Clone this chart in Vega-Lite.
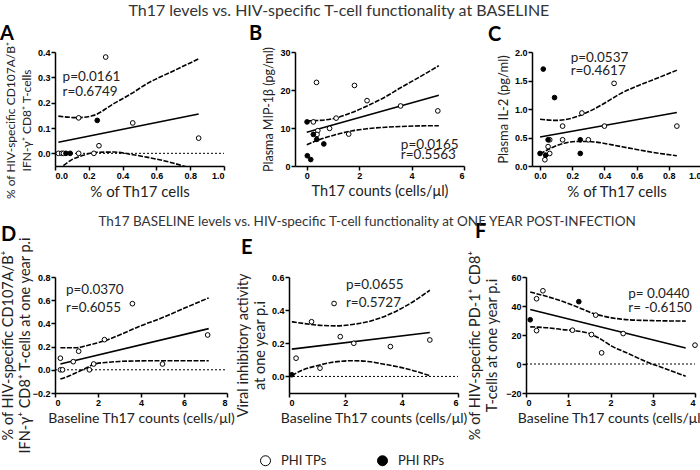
{
  "$schema": "https://vega.github.io/schema/vega-lite/v6.json",
  "background": "white",
  "padding": {"left": 0, "top": 2, "right": 0, "bottom": 2},
  "datasets": {
    "A": [
      {"k":"zero","x":0,"y":0},{"k":"zero","x":1,"y":0},
      {"k":"fit","x":0.02,"y":0.044},{"k":"fit","x":0.85,"y":0.155},
      {"k":"up","x":0.02,"y":0.147},{"k":"up","x":0.13,"y":0.141},{"k":"up","x":0.22,"y":0.148},{"k":"up","x":0.35,"y":0.197},{"k":"up","x":0.45,"y":0.235},{"k":"up","x":0.55,"y":0.277},{"k":"up","x":0.7,"y":0.325},{"k":"up","x":0.85,"y":0.373},
      {"k":"lo","x":0.02,"y":-0.065},{"k":"lo","x":0.1,"y":-0.025},{"k":"lo","x":0.16,"y":-0.009},{"k":"lo","x":0.25,"y":0.004},{"k":"lo","x":0.35,"y":0.005},{"k":"lo","x":0.45,"y":-0.004},{"k":"lo","x":0.55,"y":-0.016},{"k":"lo","x":0.65,"y":-0.03},{"k":"lo","x":0.75,"y":-0.048},{"k":"lo","x":0.85,"y":-0.068},
      {"k":"pt","g":"PHI TPs","x":0.30,"y":0.38},{"k":"pt","g":"PHI TPs","x":0.14,"y":0.14},{"k":"pt","g":"PHI TPs","x":0.46,"y":0.12},{"k":"pt","g":"PHI TPs","x":0.85,"y":0.06},{"k":"pt","g":"PHI TPs","x":0.26,"y":0.03},{"k":"pt","g":"PHI TPs","x":0.02,"y":0},{"k":"pt","g":"PHI TPs","x":0.04,"y":0},{"k":"pt","g":"PHI TPs","x":0.05,"y":0},{"k":"pt","g":"PHI TPs","x":0.14,"y":0},{"k":"pt","g":"PHI TPs","x":0.23,"y":0},
      {"k":"pt","g":"PHI RPs","x":0.25,"y":0.13},{"k":"pt","g":"PHI RPs","x":0.065,"y":0},{"k":"pt","g":"PHI RPs","x":0.09,"y":0},
      {"k":"lab","x":0.045,"y":0.30,"t":"p=0.0161"},{"k":"lab","x":0.045,"y":0.244,"t":"r=0.6749"}
    ],
    "B": [
      {"k":"fit","x":0,"y":8.9},{"k":"fit","x":5.04,"y":18.6},
      {"k":"up","x":0,"y":11.9},{"k":"up","x":0.5,"y":12.0},{"k":"up","x":1.03,"y":12.5},{"k":"up","x":1.7,"y":14.0},{"k":"up","x":2.3,"y":15.8},{"k":"up","x":3.0,"y":18.2},{"k":"up","x":3.58,"y":20.6},{"k":"up","x":4.3,"y":23.4},{"k":"up","x":5.04,"y":26.4},
      {"k":"lo","x":0,"y":5.6},{"k":"lo","x":0.5,"y":7.0},{"k":"lo","x":1.03,"y":8.1},{"k":"lo","x":1.7,"y":9.2},{"k":"lo","x":2.3,"y":9.8},{"k":"lo","x":3.0,"y":10.2},{"k":"lo","x":3.58,"y":10.4},{"k":"lo","x":4.3,"y":10.55},{"k":"lo","x":5.04,"y":10.6},
      {"k":"pt","g":"PHI TPs","x":0.37,"y":22},{"k":"pt","g":"PHI TPs","x":1.82,"y":21.2},{"k":"pt","g":"PHI TPs","x":2.30,"y":17.2},{"k":"pt","g":"PHI TPs","x":3.58,"y":15.8},{"k":"pt","g":"PHI TPs","x":5.0,"y":14.5},{"k":"pt","g":"PHI TPs","x":0.25,"y":11.6},{"k":"pt","g":"PHI TPs","x":1.12,"y":12.6},{"k":"pt","g":"PHI TPs","x":0.87,"y":9.9},{"k":"pt","g":"PHI TPs","x":0.42,"y":9.3},{"k":"pt","g":"PHI TPs","x":0.39,"y":8.3},{"k":"pt","g":"PHI TPs","x":1.6,"y":8.4},
      {"k":"pt","g":"PHI RPs","x":0.01,"y":11.6},{"k":"pt","g":"PHI RPs","x":0.25,"y":8.3},{"k":"pt","g":"PHI RPs","x":0.38,"y":7.0},{"k":"pt","g":"PHI RPs","x":0.65,"y":5.8},{"k":"pt","g":"PHI RPs","x":0.02,"y":2.7},{"k":"pt","g":"PHI RPs","x":0.15,"y":1.7},
      {"k":"lab","x":3.59,"y":5.6,"t":"p=0.0165"},{"k":"lab","x":3.59,"y":2.9,"t":"r=0.5563"}
    ],
    "C": [
      {"k":"fit","x":0,"y":0.51},{"k":"fit","x":0.85,"y":0.94},
      {"k":"up","x":0,"y":0.82},{"k":"up","x":0.1,"y":0.80},{"k":"up","x":0.2,"y":0.84},{"k":"up","x":0.3,"y":0.95},{"k":"up","x":0.4,"y":1.10},{"k":"up","x":0.5,"y":1.27},{"k":"up","x":0.6,"y":1.40},{"k":"up","x":0.7,"y":1.51},{"k":"up","x":0.85,"y":1.68},
      {"k":"lo","x":0,"y":0.21},{"k":"lo","x":0.08,"y":0.33},{"k":"lo","x":0.15,"y":0.40},{"k":"lo","x":0.225,"y":0.43},{"k":"lo","x":0.3,"y":0.43},{"k":"lo","x":0.37,"y":0.41},{"k":"lo","x":0.45,"y":0.37},{"k":"lo","x":0.58,"y":0.30},{"k":"lo","x":0.7,"y":0.24},{"k":"lo","x":0.85,"y":0.18},
      {"k":"pt","g":"PHI TPs","x":0.46,"y":1.45},{"k":"pt","g":"PHI TPs","x":0.26,"y":0.93},{"k":"pt","g":"PHI TPs","x":0.14,"y":0.70},{"k":"pt","g":"PHI TPs","x":0.40,"y":0.70},{"k":"pt","g":"PHI TPs","x":0.85,"y":0.70},{"k":"pt","g":"PHI TPs","x":0.06,"y":0.46},{"k":"pt","g":"PHI TPs","x":0.14,"y":0.46},{"k":"pt","g":"PHI TPs","x":0.30,"y":0.46},{"k":"pt","g":"PHI TPs","x":0.05,"y":0.34},{"k":"pt","g":"PHI TPs","x":0.06,"y":0.22},{"k":"pt","g":"PHI TPs","x":0.03,"y":0.11},
      {"k":"pt","g":"PHI RPs","x":0.02,"y":1.70},{"k":"pt","g":"PHI RPs","x":0.09,"y":1.20},{"k":"pt","g":"PHI RPs","x":0.05,"y":0.46},{"k":"pt","g":"PHI RPs","x":0.25,"y":0.46},{"k":"pt","g":"PHI RPs","x":0.0,"y":0.22},{"k":"pt","g":"PHI RPs","x":0.035,"y":0.19},{"k":"pt","g":"PHI RPs","x":0.25,"y":0.22},
      {"k":"lab","x":0.19,"y":1.89,"t":"p=0.0537"},{"k":"lab","x":0.19,"y":1.67,"t":"r=0.4617"}
    ],
    "D": [
      {"k":"zero","x":0,"y":0},{"k":"zero","x":8,"y":0},
      {"k":"fit","x":0.25,"y":0.05},{"k":"fit","x":7.15,"y":0.355},
      {"k":"up","x":0.25,"y":0.19},{"k":"up","x":1.0,"y":0.19},{"k":"up","x":1.5,"y":0.21},{"k":"up","x":2.3,"y":0.25},{"k":"up","x":3.0,"y":0.30},{"k":"up","x":4.0,"y":0.38},{"k":"up","x":5.0,"y":0.45},{"k":"up","x":6.0,"y":0.53},{"k":"up","x":7.15,"y":0.62},
      {"k":"lo","x":0.25,"y":-0.08},{"k":"lo","x":0.7,"y":-0.05},{"k":"lo","x":1.05,"y":-0.02},{"k":"lo","x":1.5,"y":0.02},{"k":"lo","x":1.83,"y":0.05},{"k":"lo","x":2.5,"y":0.065},{"k":"lo","x":3.0,"y":0.072},{"k":"lo","x":4.0,"y":0.077},{"k":"lo","x":5.0,"y":0.078},{"k":"lo","x":7.15,"y":0.078},
      {"k":"pt","g":"PHI TPs","x":3.6,"y":0.57},{"k":"pt","g":"PHI TPs","x":7.1,"y":0.30},{"k":"pt","g":"PHI TPs","x":2.3,"y":0.26},{"k":"pt","g":"PHI TPs","x":1.1,"y":0.16},{"k":"pt","g":"PHI TPs","x":0.25,"y":0.10},{"k":"pt","g":"PHI TPs","x":0.85,"y":0.07},{"k":"pt","g":"PHI TPs","x":1.8,"y":0.05},{"k":"pt","g":"PHI TPs","x":5.0,"y":0.05},{"k":"pt","g":"PHI TPs","x":1.6,"y":0.0},{"k":"pt","g":"PHI TPs","x":0.25,"y":0.0},{"k":"pt","g":"PHI TPs","x":0.35,"y":0.0},
      {"k":"lab","x":0.51,"y":0.69,"t":"p=0.0370"},{"k":"lab","x":0.51,"y":0.535,"t":"r=0.6055"}
    ],
    "E": [
      {"k":"zero","x":0,"y":0},{"k":"zero","x":6,"y":0},
      {"k":"fit","x":0.1,"y":0.165},{"k":"fit","x":5.0,"y":0.265},
      {"k":"up","x":0.1,"y":0.33},{"k":"up","x":0.5,"y":0.32},{"k":"up","x":1.0,"y":0.31},{"k":"up","x":1.7,"y":0.305},{"k":"up","x":2.3,"y":0.315},{"k":"up","x":2.8,"y":0.33},{"k":"up","x":3.5,"y":0.37},{"k":"up","x":4.2,"y":0.43},{"k":"up","x":5.0,"y":0.52},
      {"k":"lo","x":0.1,"y":0.005},{"k":"lo","x":0.5,"y":0.04},{"k":"lo","x":1.0,"y":0.065},{"k":"lo","x":1.6,"y":0.087},{"k":"lo","x":2.3,"y":0.095},{"k":"lo","x":2.8,"y":0.09},{"k":"lo","x":3.5,"y":0.07},{"k":"lo","x":4.2,"y":0.045},{"k":"lo","x":5.0,"y":0.005},
      {"k":"pt","g":"PHI TPs","x":1.6,"y":0.44},{"k":"pt","g":"PHI TPs","x":0.8,"y":0.33},{"k":"pt","g":"PHI TPs","x":1.82,"y":0.24},{"k":"pt","g":"PHI TPs","x":2.3,"y":0.20},{"k":"pt","g":"PHI TPs","x":3.6,"y":0.18},{"k":"pt","g":"PHI TPs","x":5.0,"y":0.22},{"k":"pt","g":"PHI TPs","x":0.25,"y":0.11},{"k":"pt","g":"PHI TPs","x":1.1,"y":0.05},
      {"k":"pt","g":"PHI RPs","x":0.1,"y":0.01},
      {"k":"lab","x":2.02,"y":0.553,"t":"p=0.0655"},{"k":"lab","x":2.02,"y":0.443,"t":"r=0.5727"}
    ],
    "F": [
      {"k":"zero","x":0,"y":0},{"k":"zero","x":4,"y":0},
      {"k":"fit","x":0.1,"y":37.6},{"k":"fit","x":3.78,"y":11.1},
      {"k":"up","x":0.1,"y":49.6},{"k":"up","x":0.5,"y":46.5},{"k":"up","x":0.84,"y":43.4},{"k":"up","x":1.2,"y":39.5},{"k":"up","x":1.63,"y":34.5},{"k":"up","x":2.0,"y":32},{"k":"up","x":2.42,"y":30.5},{"k":"up","x":3.0,"y":29.9},{"k":"up","x":3.78,"y":29.6},
      {"k":"lo","x":0.1,"y":25.6},{"k":"lo","x":0.5,"y":25},{"k":"lo","x":0.84,"y":23.8},{"k":"lo","x":1.2,"y":22.8},{"k":"lo","x":1.48,"y":21.2},{"k":"lo","x":1.75,"y":17.5},{"k":"lo","x":2.03,"y":12.3},{"k":"lo","x":2.4,"y":7.5},{"k":"lo","x":2.82,"y":1.9},{"k":"lo","x":3.3,"y":-3.3},{"k":"lo","x":3.78,"y":-8.5},
      {"k":"pt","g":"PHI TPs","x":0.4,"y":50.5},{"k":"pt","g":"PHI TPs","x":0.25,"y":45},{"k":"pt","g":"PHI TPs","x":0.25,"y":23},{"k":"pt","g":"PHI TPs","x":1.65,"y":33.7},{"k":"pt","g":"PHI TPs","x":1.10,"y":23.3},{"k":"pt","g":"PHI TPs","x":1.55,"y":20.3},{"k":"pt","g":"PHI TPs","x":1.79,"y":7.7},{"k":"pt","g":"PHI TPs","x":2.30,"y":21},{"k":"pt","g":"PHI TPs","x":4.0,"y":13},
      {"k":"pt","g":"PHI RPs","x":0.1,"y":30.5},{"k":"pt","g":"PHI RPs","x":1.25,"y":43},
      {"k":"lab","x":2.42,"y":48,"t":"p= 0.0440"},{"k":"lab","x":2.42,"y":38.8,"t":"r= -0.6150"}
    ]
  },
  "vconcat": [
    {
      "title": {"text": "Th17 levels vs. HIV-specific T-cell functionality at BASELINE", "anchor": "middle", "frame": "bounds", "dx": -12, "fontSize": 16, "fontWeight": "normal", "color": "#333", "offset": 5},
      "spacing": 23,
      "hconcat": [
        {
          "width": 169, "height": 114,
          "title": {"text": "A", "anchor": "start", "dx": -55, "offset": -3},
          "data": {"name": "A"},
          "encoding": {
            "x": {"field": "x", "type": "quantitative", "scale": {"domain": [0, 1], "nice": false, "zero": false}, "axis": {"values": [0, 0.2, 0.4, 0.6, 0.8, 1.0], "format": ".1f", "titleFontSize": 15, "title": "% of Th17 cells"}},
            "y": {"field": "y", "type": "quantitative", "scale": {"domain": [-0.05, 0.4], "nice": false, "zero": false}, "axis": {"values": [0, 0.1, 0.2, 0.3, 0.4], "format": ".1f", "titleY": 68, "titleFontSize": 12, "title": ["% of HIV-specific CD107A/B⁺", "IFN-γ⁺ CD8⁺ T-cells"]}}
          },
          "layer": [
            {"transform": [{"filter": "datum.k=='zero'"}], "mark": {"type": "line", "color": "black", "strokeWidth": 1, "strokeDash": [2, 2]}},
            {"transform": [{"filter": "datum.k=='up'"}], "mark": {"type": "line", "color": "black", "strokeWidth": 1.6, "strokeDash": [5, 1.5], "interpolate": "monotone", "clip": true}},
            {"transform": [{"filter": "datum.k=='lo'"}], "mark": {"type": "line", "color": "black", "strokeWidth": 1.6, "strokeDash": [5, 1.5], "interpolate": "monotone", "clip": true}},
            {"transform": [{"filter": "datum.k=='fit'"}], "mark": {"type": "line", "color": "black", "strokeWidth": 1.6}},
            {"transform": [{"filter": "datum.k=='pt'"}], "mark": {"type": "point", "shape": "circle", "filled": true, "stroke": "black", "strokeWidth": 1, "size": 22, "opacity": 1}, "encoding": {"fill": {"field": "g", "type": "nominal", "scale": {"domain": ["PHI TPs", "PHI RPs"], "range": ["white", "black"]}, "legend": {"title": null}}}},
            {"transform": [{"filter": "datum.k=='lab'"}], "mark": {"type": "text", "align": "left", "baseline": "middle", "font": "Lato", "fontSize": 13.5, "color": "#222"}, "encoding": {"text": {"field": "t"}}}
          ]
        },
        {
          "width": 169, "height": 114,
          "title": {"text": "B", "anchor": "start", "dx": -46, "offset": 3},
          "data": {"name": "B"},
          "encoding": {
            "x": {"field": "x", "type": "quantitative", "scale": {"domain": [-0.45, 6], "nice": false, "zero": false}, "axis": {"values": [0, 2, 4, 6], "format": "d", "titleFontSize": 14.5, "title": "Th17 counts (cells/μl)"}},
            "y": {"field": "y", "type": "quantitative", "scale": {"domain": [0, 30], "nice": false, "zero": false}, "axis": {"values": [0, 10, 20, 30], "format": "d", "titleFontSize": 12.5, "title": "Plasma MIP-1β (pg/ml)"}}
          },
          "layer": [
            {"transform": [{"filter": "datum.k=='up'"}], "mark": {"type": "line", "color": "black", "strokeWidth": 1.6, "strokeDash": [5, 1.5], "interpolate": "monotone", "clip": true}},
            {"transform": [{"filter": "datum.k=='lo'"}], "mark": {"type": "line", "color": "black", "strokeWidth": 1.6, "strokeDash": [5, 1.5], "interpolate": "monotone", "clip": true}},
            {"transform": [{"filter": "datum.k=='fit'"}], "mark": {"type": "line", "color": "black", "strokeWidth": 1.6}},
            {"transform": [{"filter": "datum.k=='pt'"}], "mark": {"type": "point", "shape": "circle", "filled": true, "stroke": "black", "strokeWidth": 1, "size": 22, "opacity": 1}, "encoding": {"fill": {"field": "g", "type": "nominal", "scale": {"domain": ["PHI TPs", "PHI RPs"], "range": ["white", "black"]}, "legend": {"title": null}}}},
            {"transform": [{"filter": "datum.k=='lab'"}], "mark": {"type": "text", "align": "left", "baseline": "middle", "font": "Lato", "fontSize": 13.5, "color": "#222"}, "encoding": {"text": {"field": "t"}}}
          ]
        },
        {
          "width": 169, "height": 114,
          "title": {"text": "C", "anchor": "start", "dx": -44, "offset": 3},
          "data": {"name": "C"},
          "encoding": {
            "x": {"field": "x", "type": "quantitative", "scale": {"domain": [-0.05, 1], "nice": false, "zero": false}, "axis": {"values": [0, 0.2, 0.4, 0.6, 0.8, 1.0], "format": ".1f", "titleFontSize": 15, "title": "% of Th17 cells"}},
            "y": {"field": "y", "type": "quantitative", "scale": {"domain": [0, 2], "nice": false, "zero": false}, "axis": {"values": [0, 0.5, 1, 1.5, 2], "format": ".1f", "titleFontSize": 13, "title": "Plasma IL-2 (pg/ml)"}}
          },
          "layer": [
            {"transform": [{"filter": "datum.k=='up'"}], "mark": {"type": "line", "color": "black", "strokeWidth": 1.6, "strokeDash": [5, 1.5], "interpolate": "monotone", "clip": true}},
            {"transform": [{"filter": "datum.k=='lo'"}], "mark": {"type": "line", "color": "black", "strokeWidth": 1.6, "strokeDash": [5, 1.5], "interpolate": "monotone", "clip": true}},
            {"transform": [{"filter": "datum.k=='fit'"}], "mark": {"type": "line", "color": "black", "strokeWidth": 1.6}},
            {"transform": [{"filter": "datum.k=='pt'"}], "mark": {"type": "point", "shape": "circle", "filled": true, "stroke": "black", "strokeWidth": 1, "size": 22, "opacity": 1}, "encoding": {"fill": {"field": "g", "type": "nominal", "scale": {"domain": ["PHI TPs", "PHI RPs"], "range": ["white", "black"]}, "legend": {"title": null}}}},
            {"transform": [{"filter": "datum.k=='lab'"}], "mark": {"type": "text", "align": "left", "baseline": "middle", "font": "Lato", "fontSize": 13.5, "color": "#222"}, "encoding": {"text": {"field": "t"}}}
          ]
        }
      ]
    },
    {
      "title": {"text": "Th17 BASELINE levels vs. HIV-specific T-cell functionality at ONE YEAR POST-INFECTION", "anchor": "middle", "frame": "bounds", "dx": 15, "fontSize": 13.5, "fontWeight": "normal", "color": "#333", "offset": -6},
      "spacing": 0,
      "hconcat": [
        {
          "width": 172, "height": 116,
          "title": {"text": "D", "anchor": "start", "dx": -54, "offset": -9},
          "data": {"name": "D"},
          "encoding": {
            "x": {"field": "x", "type": "quantitative", "scale": {"domain": [0, 8], "nice": false, "zero": false}, "axis": {"values": [0, 2, 4, 6, 8], "format": "d", "titleFontSize": 14, "title": "Baseline Th17 counts (cells/μl)"}},
            "y": {"field": "y", "type": "quantitative", "scale": {"domain": [-0.2, 0.8], "nice": false, "zero": false}, "axis": {"values": [-0.2, 0, 0.2, 0.4, 0.6, 0.8], "format": ".1f", "titleY": 68, "titleFontSize": 14.5, "titleLineHeight": 17, "titlePadding": 0, "title": ["% of HIV-specific CD107A/B⁺", "IFN-γ⁺ CD8⁺ T-cells at one year p.i"]}}
          },
          "layer": [
            {"transform": [{"filter": "datum.k=='zero'"}], "mark": {"type": "line", "color": "black", "strokeWidth": 1, "strokeDash": [2, 2]}},
            {"transform": [{"filter": "datum.k=='up'"}], "mark": {"type": "line", "color": "black", "strokeWidth": 1.6, "strokeDash": [5, 1.5], "interpolate": "monotone", "clip": true}},
            {"transform": [{"filter": "datum.k=='lo'"}], "mark": {"type": "line", "color": "black", "strokeWidth": 1.6, "strokeDash": [5, 1.5], "interpolate": "monotone", "clip": true}},
            {"transform": [{"filter": "datum.k=='fit'"}], "mark": {"type": "line", "color": "black", "strokeWidth": 1.6}},
            {"transform": [{"filter": "datum.k=='pt'"}], "mark": {"type": "point", "shape": "circle", "filled": true, "stroke": "black", "strokeWidth": 1, "size": 22, "opacity": 1}, "encoding": {"fill": {"field": "g", "type": "nominal", "scale": {"domain": ["PHI TPs", "PHI RPs"], "range": ["white", "black"]}, "legend": {"title": null}}}},
            {"transform": [{"filter": "datum.k=='lab'"}], "mark": {"type": "text", "align": "left", "baseline": "middle", "font": "Lato", "fontSize": 13.5, "color": "#222"}, "encoding": {"text": {"field": "t"}}}
          ]
        },
        {
          "width": 169, "height": 116,
          "title": {"text": "E", "anchor": "start", "dx": -48, "offset": 15},
          "data": {"name": "E"},
          "encoding": {
            "x": {"field": "x", "type": "quantitative", "scale": {"domain": [0, 6], "nice": false, "zero": false}, "axis": {"values": [0, 2, 4, 6], "format": "d", "titleFontSize": 14, "title": "Baseline Th17 counts (cells/μl)"}},
            "y": {"field": "y", "type": "quantitative", "scale": {"domain": [-0.1, 0.6], "nice": false, "zero": false}, "axis": {"values": [0, 0.2, 0.4, 0.6], "format": ".1f", "titleY": 68, "titleFontSize": 14.5, "titleLineHeight": 17, "title": ["Viral inhibitory activity", "at one year p.i"]}}
          },
          "layer": [
            {"transform": [{"filter": "datum.k=='zero'"}], "mark": {"type": "line", "color": "black", "strokeWidth": 1, "strokeDash": [2, 2]}},
            {"transform": [{"filter": "datum.k=='up'"}], "mark": {"type": "line", "color": "black", "strokeWidth": 1.6, "strokeDash": [5, 1.5], "interpolate": "monotone", "clip": true}},
            {"transform": [{"filter": "datum.k=='lo'"}], "mark": {"type": "line", "color": "black", "strokeWidth": 1.6, "strokeDash": [5, 1.5], "interpolate": "monotone", "clip": true}},
            {"transform": [{"filter": "datum.k=='fit'"}], "mark": {"type": "line", "color": "black", "strokeWidth": 1.6}},
            {"transform": [{"filter": "datum.k=='pt'"}], "mark": {"type": "point", "shape": "circle", "filled": true, "stroke": "black", "strokeWidth": 1, "size": 22, "opacity": 1}, "encoding": {"fill": {"field": "g", "type": "nominal", "scale": {"domain": ["PHI TPs", "PHI RPs"], "range": ["white", "black"]}, "legend": {"title": null}}}},
            {"transform": [{"filter": "datum.k=='lab'"}], "mark": {"type": "text", "align": "left", "baseline": "middle", "font": "Lato", "fontSize": 13.5, "color": "#222"}, "encoding": {"text": {"field": "t"}}}
          ]
        },
        {
          "width": 169, "height": 116,
          "title": {"text": "F", "anchor": "start", "dx": -51, "offset": 8},
          "data": {"name": "F"},
          "encoding": {
            "x": {"field": "x", "type": "quantitative", "scale": {"domain": [0, 4], "nice": false, "zero": false}, "axis": {"values": [0, 1, 2, 3, 4], "format": "d", "titleFontSize": 14, "title": "Baseline Th17 counts (cells/μl)"}},
            "y": {"field": "y", "type": "quantitative", "scale": {"domain": [-20, 60], "nice": false, "zero": false}, "axis": {"values": [-20, 0, 20, 40, 60], "format": "d", "titleY": 68, "titleFontSize": 14.5, "titleLineHeight": 17, "titlePadding": 6, "title": ["% of HIV-specific PD-1⁺ CD8⁺", "T-cells at one year p.i"]}}
          },
          "layer": [
            {"transform": [{"filter": "datum.k=='zero'"}], "mark": {"type": "line", "color": "black", "strokeWidth": 1, "strokeDash": [2, 2]}},
            {"transform": [{"filter": "datum.k=='up'"}], "mark": {"type": "line", "color": "black", "strokeWidth": 1.6, "strokeDash": [5, 1.5], "interpolate": "monotone", "clip": true}},
            {"transform": [{"filter": "datum.k=='lo'"}], "mark": {"type": "line", "color": "black", "strokeWidth": 1.6, "strokeDash": [5, 1.5], "interpolate": "monotone", "clip": true}},
            {"transform": [{"filter": "datum.k=='fit'"}], "mark": {"type": "line", "color": "black", "strokeWidth": 1.6}},
            {"transform": [{"filter": "datum.k=='pt'"}], "mark": {"type": "point", "shape": "circle", "filled": true, "stroke": "black", "strokeWidth": 1, "size": 22, "opacity": 1}, "encoding": {"fill": {"field": "g", "type": "nominal", "scale": {"domain": ["PHI TPs", "PHI RPs"], "range": ["white", "black"]}, "legend": {"title": null}}}},
            {"transform": [{"filter": "datum.k=='lab'"}], "mark": {"type": "text", "align": "left", "baseline": "middle", "font": "Lato", "fontSize": 13.5, "color": "#222"}, "encoding": {"text": {"field": "t"}}}
          ]
        }
      ]
    }
  ],
  "spacing": 15,
  "config": {
    "view": {"stroke": null},
    "font": "Lato",
    "title": {"font": "Lato", "fontSize": 20, "fontWeight": "bold", "color": "black", "frame": "group"},
    "axis": {"grid": false, "domainColor": "black", "domainWidth": 1.5, "tickColor": "black", "tickWidth": 1.5, "tickSize": 4, "labelFont": "Liberation Sans", "labelFontWeight": "bold", "labelFontSize": 9, "labelColor": "black", "labelPadding": 1, "titleFont": "Lato", "titleFontSize": 13.5, "titleFontWeight": "normal", "titleColor": "#222", "titlePadding": 4, "titleLineHeight": 16},
    "legend": {"orient": "bottom", "direction": "horizontal", "labelFont": "Lato", "labelFontSize": 13, "labelColor": "#222", "symbolSize": 100, "symbolStrokeColor": "black", "symbolStrokeWidth": 1, "labelOffset": 9, "columnPadding": 48, "offset": 0, "layout": {"bottom": {"anchor": "middle"}}}
  }
}
